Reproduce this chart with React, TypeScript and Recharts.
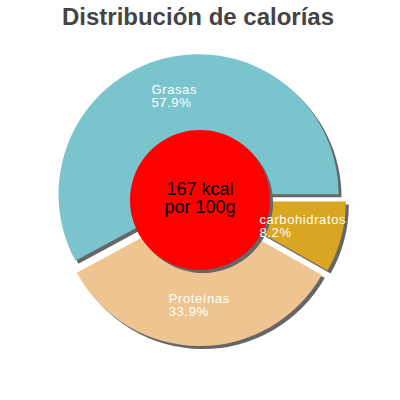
import React from 'react';
import { PieChart, Pie, Cell, Sector } from 'recharts';

// calorie split, counter-clockwise from 3 o'clock
const CATEGORIES = ['Grasas', 'Proteínas', 'carbohidratos'];
const PERCENTAGES = [57.9, 33.9, 8.2];
const COLORS = ['#7ac5cd', '#eec591', '#daa520'];
const ENERGY_LINES = ['167 kcal', 'por 100g'];
const TITLE = 'Distribución de calorías';

const data = CATEGORIES.map((name, i) => ({ name, value: PERCENTAGES[i] }));
const centerData = [{ name: 'kcal', value: 167 }];

const FONT = '"Liberation Sans", Arial, sans-serif';
const EXPLODE = 6;
const SHADOW = 3;
const RAD = Math.PI / 180;

let ctx: CanvasRenderingContext2D | null = null;
const textWidth = (s: string, font: string, spacing: number) => {
  if (!ctx) ctx = document.createElement('canvas').getContext('2d');
  if (!ctx) return s.length * 7;
  ctx.font = font;
  return ctx.measureText(s).width + spacing * (s.length - 1);
};

const ExplodedSector = (props: any) => {
  const { cx, cy, midAngle } = props;
  return (
    <Sector
      {...props}
      cx={cx + EXPLODE * Math.cos(-midAngle * RAD)}
      cy={cy + EXPLODE * Math.sin(-midAngle * RAD)}
    />
  );
};

const renderLabel = (props: any) => {
  const { cx, cy, midAngle, name, value } = props;
  const r = EXPLODE + 100;
  const px = cx + r * Math.cos(-midAngle * RAD);
  const py = cy + r * Math.sin(-midAngle * RAD);
  const w = textWidth(name, `13px ${FONT}`, 0.6);
  return (
    <text
      x={px - w / 2}
      y={py}
      fill="#fff"
      fontSize={13}
      fontFamily={FONT}
      letterSpacing={0.6}
      textAnchor="start"
    >
      <tspan x={px - w / 2} dy={-3}>{name}</tspan>
      <tspan x={px - w / 2} dy={13}>{`${value}%`}</tspan>
    </text>
  );
};

const renderCenter = (props: any) => {
  const { cx, cy } = props;
  return (
    <text x={cx} y={cy} fill="#000" fontSize={18} fontFamily={FONT} textAnchor="middle">
      <tspan x={cx} dy={-5}>{ENERGY_LINES[0]}</tspan>
      <tspan x={cx} dy={18}>{ENERGY_LINES[1]}</tspan>
    </text>
  );
};

export default function App() {
  return (
    <div style={{ position: 'absolute', left: 0, top: 0, width: 400, height: 400, background: '#fff' }}>
      <PieChart width={400} height={400} margin={{ top: 0, right: 0, bottom: 0, left: 0 }}>
        <text
          x={198}
          y={25}
          textAnchor="middle"
          fontSize={24}
          fontWeight="bold"
          fontFamily={FONT}
          fill="#444"
        >
          {TITLE}
        </text>
        <Pie
          data={data}
          dataKey="value"
          nameKey="name"
          cx={200 + SHADOW}
          cy={200 + SHADOW}
          outerRadius={140}
          fill="#666"
          stroke="none"
          shape={ExplodedSector}
          isAnimationActive={false}
        />
        <Pie
          data={data}
          dataKey="value"
          nameKey="name"
          cx={200}
          cy={200}
          outerRadius={140}
          stroke="none"
          shape={ExplodedSector}
          label={renderLabel}
          labelLine={false}
          isAnimationActive={false}
        >
          {data.map((entry, index) => (
            <Cell key={`cell-${index}`} fill={COLORS[index]} />
          ))}
        </Pie>
        <Pie
          data={centerData}
          dataKey="value"
          cx={200 + SHADOW}
          cy={200 + SHADOW}
          outerRadius={70}
          fill="#666"
          stroke="none"
          isAnimationActive={false}
        />
        <Pie
          data={centerData}
          dataKey="value"
          cx={200}
          cy={200}
          outerRadius={70}
          fill="#ff0000"
          stroke="none"
          label={renderCenter}
          labelLine={false}
          isAnimationActive={false}
        />
      </PieChart>
    </div>
  );
}
